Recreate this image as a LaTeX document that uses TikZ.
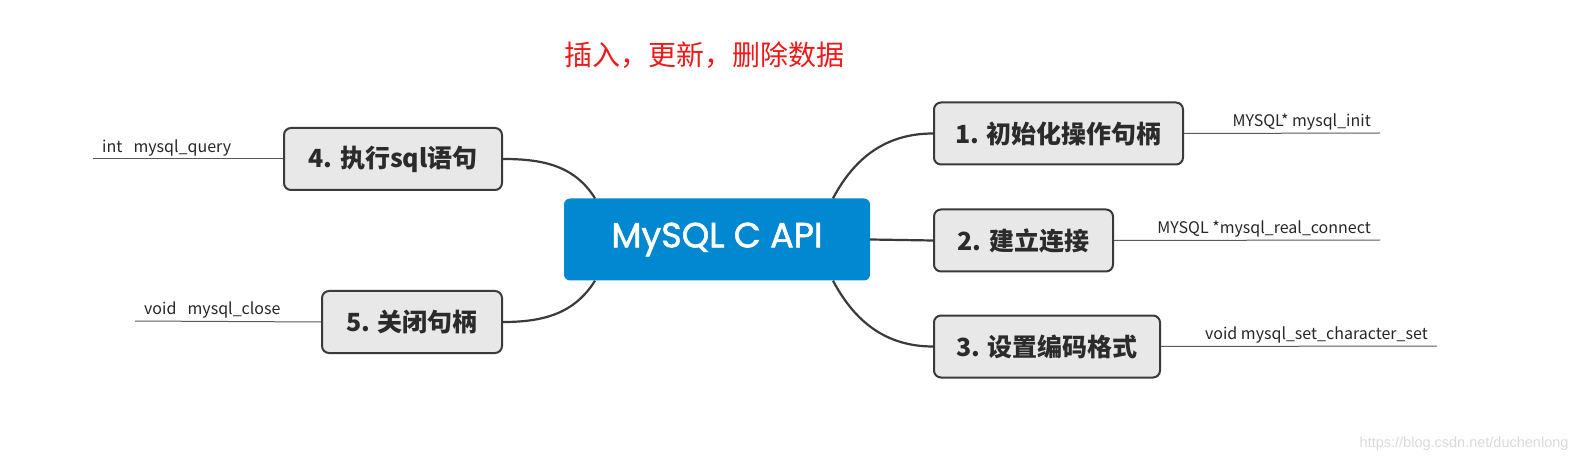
\documentclass[tikz,border=0pt]{standalone}
\usepackage{fontspec}
\newfontfamily\cjk{Noto Sans CJK SC}
\newfontfamily\pop{Poppins}[FakeBold=1.6]
\newfontfamily\lib{Liberation Sans}
\definecolor{cblue}{HTML}{0288D1}
\definecolor{tfill}{HTML}{E8E8E8}
\definecolor{tdraw}{HTML}{3A3A3A}
\definecolor{ttext}{HTML}{2B2B2B}
\definecolor{tred}{HTML}{F01818}
\tikzset{
  central/.style={fill=cblue, rounded corners=6pt, minimum width=306pt, minimum height=82pt,
    text=white, font=\pop\fontsize{35}{40}\selectfont, inner sep=0pt},
  topic/.style={draw=tdraw, line width=2pt, fill=tfill, rounded corners=7pt, inner sep=0pt,
    minimum height=62pt, text=ttext, font=\cjk\bfseries\fontsize{25}{28}\selectfont},
  conn/.style={draw=tdraw, line width=2.2pt},
  sub/.style={draw=black!65, line width=1pt},
  lab/.style={font=\cjk\fontsize{16}{18}\selectfont, text=black!85, inner xsep=9pt, inner ysep=3pt},
}
\begin{document}
\begin{tikzpicture}[x=1pt,y=-1pt]
\useasboundingbox (0,0) rectangle (1579,462);
\node[font=\cjk\fontsize{28}{32}\selectfont, text=tred] (title) at (704,55) {插入，更新，删除数据};
\node[central] (c) at (717,239.5) {MySQL C API};
\node[topic, minimum width=249pt] (n1) at (1058.5,133.5) {1. 初始化操作句柄};
\node[topic, minimum width=179pt] (n2) at (1023.5,240.5) {2. 建立连接};
\node[topic, minimum width=226pt] (n3) at (1047,346.5) {3. 设置编码格式};
\node[topic, minimum width=218pt] (n4) at (393,159) {4. 执行sql语句};
\node[topic, minimum width=180pt] (n5) at (412,322) {5. 关闭句柄};
\node[lab, anchor=south east] (l1) at (1380,133) {MYSQL* mysql\_init};
\node[lab, anchor=south east] (l2) at (1380,240) {MYSQL *mysql\_real\_connect};
\node[lab, anchor=south east] (l3) at (1437,346) {void mysql\_set\_character\_set};
\node[lab, anchor=south west] (l4) at (93,159) {int\hspace{0.7em}mysql\_query};
\node[lab, anchor=south west] (l5) at (135,321) {void\hspace{0.7em}mysql\_close};
\draw[conn] ([xshift=116pt]c.north) to[out=62,in=180] (n1.west);
\draw[conn] (c.east) -- (n2.west);
\draw[conn] ([xshift=116pt]c.south) to[out=-62,in=180] (n3.west);
\draw[conn] ([xshift=-122pt]c.north) to[out=122,in=0] (n4.east);
\draw[conn] ([xshift=-122pt]c.south) to[out=-122,in=0] (n5.east);
\draw[sub] (n1.east) -- (l1.south east);
\draw[sub] (n2.east) -- (l2.south east);
\draw[sub] (n3.east) -- (l3.south east);
\draw[sub] (n4.west) -- (l4.south west);
\draw[sub] (n5.west) -- (l5.south west);
\node[anchor=east, font=\lib\fontsize{14.5}{16}\selectfont, text=black!15] (wm) at (1572,444) {https://blog.csdn.net/duchenlong};
\end{tikzpicture}
\end{document}
